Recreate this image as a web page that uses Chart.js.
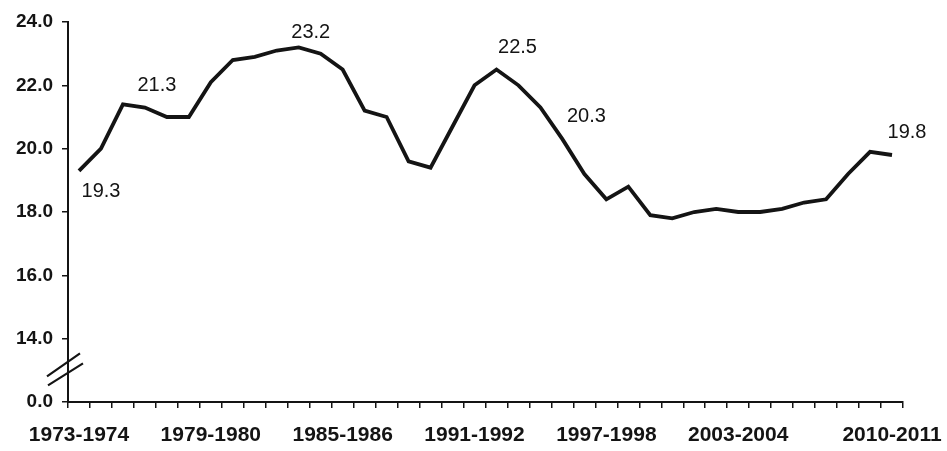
<!DOCTYPE html>
<html>
<head>
<meta charset="utf-8">
<script src="https://cdn.jsdelivr.net/npm/chart.js@4/dist/chart.umd.min.js"></script>
<style>
  html, body { margin: 0; padding: 0; background: #ffffff; }
  #wrap { width: 947px; height: 451px; }
</style>
</head>
<body>
<div id="wrap"><canvas id="c" width="947" height="451"></canvas></div>
<script>
// ---- Data ----
const categories = [
  '1973-1974','1974-1975','1975-1976','1976-1977','1977-1978','1978-1979',
  '1979-1980','1980-1981','1981-1982','1982-1983','1983-1984','1984-1985',
  '1985-1986','1986-1987','1987-1988','1988-1989','1989-1990','1990-1991',
  '1991-1992','1992-1993','1993-1994','1994-1995','1995-1996','1996-1997',
  '1997-1998','1998-1999','1999-2000','2000-2001','2001-2002','2002-2003',
  '2003-2004','2004-2005','2005-2006','2006-2007','2007-2008','2008-2009',
  '2009-2010','2010-2011'
];
const rates = [
  19.3, 20.0, 21.4, 21.3, 21.0, 21.0, 22.1, 22.8, 22.9, 23.1,
  23.2, 23.0, 22.5, 21.2, 21.0, 19.6, 19.4, 20.7, 22.0, 22.5,
  22.0, 21.3, 20.3, 19.2, 18.4, 18.8, 17.9, 17.8, 18.0, 18.1,
  18.0, 18.0, 18.1, 18.3, 18.4, 19.2, 19.9, 19.8
];
const shownXLabels = ['1973-1974','1979-1980','1985-1986','1991-1992','1997-1998','2003-2004','2010-2011'];
const yTickValues = [0.0, 14.0, 16.0, 18.0, 20.0, 22.0, 24.0];
const labelledIdx = [0, 3, 10, 19, 22, 37];

// axis break: 0.0 is drawn one step below 14.0
const BREAK_POS = 12;
const toScale = v => (v === 0 ? BREAK_POS : v);
const fromScale = v => (v === BREAK_POS ? 0 : v);

const INK = '#141414';

const valueLabels = {
  id: 'valueLabels',
  afterDatasetsDraw(chart) {
    const { ctx } = chart;
    const meta = chart.getDatasetMeta(0);
    const offs = { 0: [22, 21], 3: [12, -22], 10: [12, -15], 19: [21, -22], 22: [24, -23], 37: [15, -23] };
    ctx.save();
    ctx.font = '20px "Liberation Sans", Arial, sans-serif';
    ctx.fillStyle = INK;
    ctx.textAlign = 'center';
    ctx.textBaseline = 'middle';
    labelledIdx.forEach(i => {
      const p = meta.data[i];
      const o = offs[i] || [0, -20];
      ctx.fillText(rates[i].toFixed(1), p.x + o[0], p.y + o[1]);
    });
    ctx.restore();
  }
};

const axisBreak = {
  id: 'axisBreak',
  afterDraw(chart) {
    const { ctx } = chart;
    const ys = chart.scales.y;
    const x0 = ys.right;
    const yc = ys.getPixelForValue((BREAK_POS + 14) / 2);
    ctx.save();
    ctx.strokeStyle = INK;
    ctx.lineWidth = 2.2;
    ctx.beginPath();
    ctx.moveTo(x0 - 21, yc + 6); ctx.lineTo(x0 + 12, yc - 17);
    ctx.moveTo(x0 - 20, yc + 15); ctx.lineTo(x0 + 15, yc - 7);
    ctx.stroke();
    ctx.restore();
  }
};

new Chart(document.getElementById('c'), {
  type: 'line',
  data: {
    labels: categories,
    datasets: [{
      data: rates,
      borderColor: INK,
      borderWidth: 3.8,
      pointRadius: 0,
      tension: 0,
      fill: false
    }]
  },
  options: {
    responsive: false,
    animation: false,
    layout: { padding: { top: 22, right: 44, left: 0, bottom: 0 } },
    plugins: { legend: { display: false }, tooltip: { enabled: false } },
    scales: {
      x: {
        offset: true,
        grid: { display: true, offset: true, drawOnChartArea: false, drawTicks: true, tickLength: 6, color: INK, lineWidth: 1.5 },
        border: { display: true, color: INK, width: 2 },
        ticks: {
          autoSkip: false,
          maxRotation: 0,
          minRotation: 0,
          padding: 15,
          color: INK,
          font: { family: '"Liberation Sans", Arial, sans-serif', size: 21, weight: 'bold' },
          callback: function (val, index) {
            const lab = categories[index];
            return shownXLabels.includes(lab) ? lab : '';
          }
        },
        afterFit: s => { s.height = 49; s.paddingLeft = 0; s.paddingRight = 0; }
      },
      y: {
        min: BREAK_POS,
        max: 24,
        grid: { display: true, drawOnChartArea: false, drawTicks: true, tickLength: 6, color: INK, lineWidth: 1.5 },
        border: { display: true, color: INK, width: 2 },
        afterBuildTicks: s => { s.ticks = yTickValues.map(v => ({ value: toScale(v) })); },
        ticks: {
          padding: 9,
          color: INK,
          font: { family: '"Liberation Sans", Arial, sans-serif', size: 19, weight: 'bold' },
          callback: v => fromScale(v).toFixed(1)
        },
        afterFit: s => { s.width = 68; s.paddingTop = 0; s.paddingBottom = 0; }
      }
    }
  },
  plugins: [valueLabels, axisBreak]
});
</script>
</body>
</html>
